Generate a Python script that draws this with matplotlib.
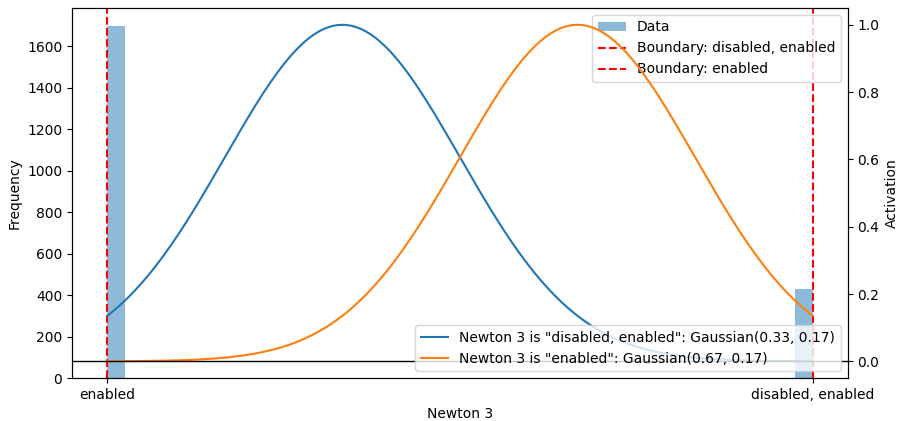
import matplotlib
matplotlib.use("Agg")
import matplotlib.pyplot as plt
import numpy as np

# histogram data: value positions (0 = "enabled", 1 = "disabled, enabled") and counts
values = [0.0, 1.0]
counts = [1700, 430]
n_bins = 40

tick_pos = [0, 1]
tick_labels = ["enabled", "disabled, enabled"]

boundary_pos = [0, 1]
boundary_labels = ["Boundary: disabled, enabled", "Boundary: enabled"]

gauss_labels = ['Newton 3 is "disabled, enabled"', 'Newton 3 is "enabled"']
gauss_mu = [1 / 3, 2 / 3]
gauss_sd = [1 / 6, 1 / 6]

fig, ax1 = plt.subplots(figsize=(9.01, 4.21), dpi=100)
fig.subplots_adjust(left=0.080, right=0.941, bottom=0.102, top=0.981)

ax1.hist(values, bins=n_bins, range=(0, 1), weights=counts, alpha=0.5, label="Data")
for pos, lab in zip(boundary_pos, boundary_labels):
    ax1.axvline(pos, color="red", linestyle="--", label=lab)
ax1.set_xlabel("Newton 3")
ax1.set_ylabel("Frequency")
ax1.set_xticks(tick_pos)
ax1.set_xticklabels(tick_labels)
ax1.legend(loc="upper right")

ax2 = ax1.twinx()
x = np.linspace(0, 1, 200)
for lab, mu, sd in zip(gauss_labels, gauss_mu, gauss_sd):
    ax2.plot(x, np.exp(-0.5 * ((x - mu) / sd) ** 2),
             label=f"{lab}: Gaussian({mu:.2f}, {sd:.2f})")
ax2.axhline(0, color="black", linewidth=1)
ax2.set_ylabel("Activation")
ax2.legend(loc="lower right")

fig.savefig("out.png", dpi=100)
